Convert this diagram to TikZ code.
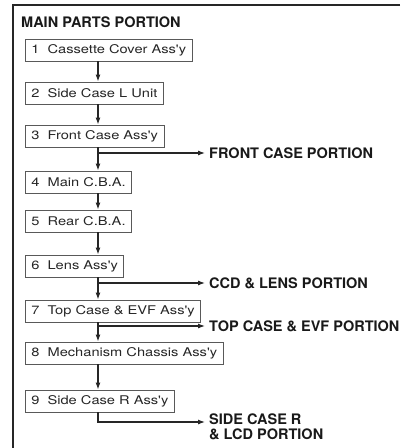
\documentclass[tikz,border=0pt]{standalone}
\usepackage{fontspec}
\setmainfont{TeX Gyre Heros}
\newfontfamily\boxfont[FakeStretch=1.22]{TeX Gyre Heros}
\usetikzlibrary{arrows.meta}
\begin{document}
\begin{tikzpicture}[x=1pt,y=-1pt,
 partbox/.style={draw=black!65, line width=0.9pt, anchor=west, minimum height=22pt, inner xsep=6pt, inner ysep=0pt, font=\boxfont\fontsize{12}{14}\selectfont, text=black!85},
 portion/.style={anchor=west, inner sep=0pt, font=\bfseries\fontsize{14.5}{15}\selectfont, text=black!90, align=left},
 link/.style={draw=black!85, line width=1.1pt, -{Latex[length=7pt,width=5pt]}},
 frame/.style={draw=black!85, line width=1.4pt}]
\useasboundingbox (0,0) rectangle (400,448);
\coordinate (ftr) at (400,5);
\coordinate (ftl) at (13,5);
\coordinate (fbl) at (13,448);
\draw[frame] (ftr) -- (ftl) -- (fbl);
\node[portion] (title) at (21,22) {MAIN PARTS PORTION};
\coordinate (spine) at (98,0);
\node[partbox] (b1) at (25,50) {1\hspace{8pt}Cassette Cover Ass'y};
\node[partbox] (b2) at (25,93) {2\hspace{8pt}Side Case L Unit};
\node[partbox] (b3) at (25,136) {3\hspace{8pt}Front Case Ass'y};
\node[partbox] (b4) at (25,182) {4\hspace{8pt}Main C.B.A.};
\node[partbox] (b5) at (25,221) {5\hspace{8pt}Rear C.B.A.};
\node[partbox] (b6) at (25,266) {6\hspace{8pt}Lens Ass'y};
\node[partbox] (b7) at (25,311) {7\hspace{8pt}Top Case \& EVF Ass'y};
\node[partbox] (b8) at (25,353) {8\hspace{8pt}Mechanism Chassis Ass'y};
\node[partbox] (b9) at (25,401) {9\hspace{8pt}Side Case R Ass'y};
\draw[link] (b1.south -| spine) -- (b2.north -| spine);
\draw[link] (b2.south -| spine) -- (b3.north -| spine);
\draw[link] (b3.south -| spine) -- (b4.north -| spine);
\draw[link] (b4.south -| spine) -- (b5.north -| spine);
\draw[link] (b5.south -| spine) -- (b6.north -| spine);
\draw[link] (b6.south -| spine) -- (b7.north -| spine);
\draw[link] (b7.south -| spine) -- (b8.north -| spine);
\draw[link] (b8.south -| spine) -- (b9.north -| spine);
\node[portion] (fc) at (209,153) {FRONT CASE PORTION};
\node[portion] (ccd) at (209,283) {CCD \& LENS PORTION};
\node[portion] (top) at (209,326) {TOP CASE \& EVF PORTION};
\node[portion, anchor=north west] (side) at (209,414) {SIDE CASE R\\\& LCD PORTION};
\draw[link] (spine |- fc.west) -- ([xshift=-4pt]fc.west);
\draw[link] (spine |- ccd.west) -- ([xshift=-4pt]ccd.west);
\draw[link] (spine |- top.west) -- ([xshift=-4pt]top.west);
\coordinate (sidetip) at (205,422);
\draw[link] (b9.south -| spine) |- (sidetip);
\end{tikzpicture}
\end{document}
